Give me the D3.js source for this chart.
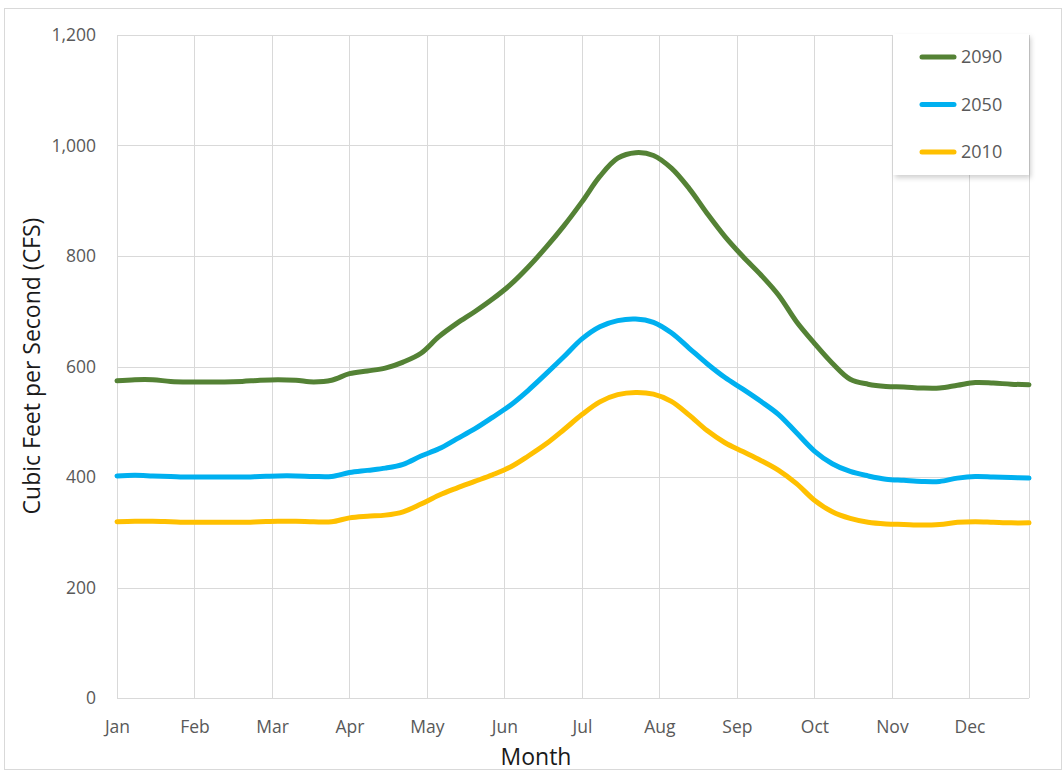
<!DOCTYPE html>
<html>
<head>
<meta charset="utf-8">
<script src="https://cdn.jsdelivr.net/npm/d3@7"></script>
<style>
  html, body { margin: 0; padding: 0; background: #ffffff; }
  svg { display: block; }
  text { font-family: "Open Sans", "DejaVu Sans", sans-serif; }
</style>
</head>
<body>
<svg id="chart" width="1063" height="771"></svg>
<script>
// ---- Data (weekly flows, CFS) ----
const months = ["Jan","Feb","Mar","Apr","May","Jun","Jul","Aug","Sep","Oct","Nov","Dec"];
const yTicks = [0, 200, 400, 600, 800, 1000, 1200];
const seriesNames = ["2090", "2050", "2010"];

const flow2090 = [574,576,576,573,572,572,572,573,575,576,575,572,575,587,592,597,608,624,654,678,699,722,748,780,816,855,898,944,977,987,982,959,922,877,835,799,766,729,681,642,606,577,568,564,563,561,561,566,571,570,568,567];
const flow2050 = [402,403,402,401,400,400,400,400,401,402,402,401,401,408,412,416,423,438,451,469,487,508,530,557,587,618,650,672,683,686,680,661,633,605,580,559,537,513,480,447,424,410,402,396,394,392,392,398,401,400,399,398];
const flow2010 = [319,320,320,319,318,318,318,318,319,320,320,319,319,326,329,331,337,351,367,380,392,404,418,438,460,486,513,536,549,553,550,537,512,484,462,446,430,412,388,358,337,325,318,315,314,313,314,318,319,318,317,317];

const seriesColors = ["#548235", "#00B0F0", "#FFC000"];
const seriesData = [flow2090, flow2050, flow2010];

// ---- Layout ----
const svg = d3.select("#chart");
const plotL = 117, plotR = 1029, plotT = 35, plotB = 698;
const nWeeks = flow2090.length;

const x = d3.scaleLinear().domain([0, nWeeks - 1]).range([plotL, plotR]);
const y = d3.scaleLinear().domain([0, 1200]).range([plotB, plotT]);
const monthPos = months.map((m, i) => i * 52 / 12);

// outer border
svg.append("rect").attr("x", 4.5).attr("y", 8.5).attr("width", 1057).attr("height", 761)
  .attr("fill", "#ffffff").attr("stroke", "#d9d9d9").attr("stroke-width", 1);

// gridlines
const grid = svg.append("g").attr("stroke", "#d9d9d9").attr("stroke-width", 1);
yTicks.forEach(t => {
  grid.append("line").attr("x1", plotL).attr("x2", plotR)
    .attr("y1", Math.round(y(t)) + 0.5).attr("y2", Math.round(y(t)) + 0.5);
});
monthPos.concat([nWeeks - 1]).forEach(p => {
  grid.append("line").attr("y1", plotT).attr("y2", plotB)
    .attr("x1", Math.round(x(p)) + 0.5).attr("x2", Math.round(x(p)) + 0.5);
});

// y axis labels
const yAxis = d3.axisLeft(y).tickValues(yTicks).tickSize(0).tickPadding(0)
  .tickFormat(d3.format(","));
const ya = svg.append("g").attr("transform", `translate(96,0)`).call(yAxis);
ya.select(".domain").remove();
ya.selectAll("text").attr("font-size", 17.5).attr("fill", "#595959")
  .attr("font-family", "'Open Sans', sans-serif");

// x axis labels
const xAxis = d3.axisBottom(x).tickValues(monthPos).tickSize(0).tickPadding(0)
  .tickFormat((d, i) => months[i]);
const xa = svg.append("g").attr("transform", `translate(0,721)`).call(xAxis);
xa.select(".domain").remove();
xa.selectAll("text").attr("font-size", 17.5).attr("fill", "#595959")
  .attr("font-family", "'Open Sans', sans-serif");

// axis titles
svg.append("text").attr("x", 536).attr("y", 765).attr("text-anchor", "middle")
  .attr("font-size", 23).attr("fill", "#1a1a1a").text("Month");
svg.append("text").attr("transform", "translate(40,366) rotate(-90)")
  .attr("text-anchor", "middle").attr("font-size", 23).attr("fill", "#1a1a1a")
  .text("Cubic Feet per Second (CFS)");

// lines
const line = d3.line().x((d, i) => x(i)).y(d => y(d)).curve(d3.curveCatmullRom.alpha(0.5));
seriesData.forEach((s, k) => {
  svg.append("path").datum(s).attr("d", line).attr("fill", "none")
    .attr("stroke", seriesColors[k]).attr("stroke-width", 5)
    .attr("stroke-linejoin", "round").attr("stroke-linecap", "round");
});

// legend
const defs = svg.append("defs");
const f = defs.append("filter").attr("id", "shadow").attr("x", "-10%").attr("y", "-10%")
  .attr("width", "130%").attr("height", "130%");
f.append("feDropShadow").attr("dx", 2).attr("dy", 3).attr("stdDeviation", 2.5)
  .attr("flood-color", "#000").attr("flood-opacity", 0.18);
const lg = svg.append("g");
lg.append("rect").attr("x", 893).attr("y", 34).attr("width", 136).attr("height", 141)
  .attr("fill", "#ffffff").attr("filter", "url(#shadow)");
seriesNames.forEach((n, k) => {
  const cy = 57 + k * 47.5;
  lg.append("line").attr("x1", 922).attr("x2", 954).attr("y1", cy).attr("y2", cy)
    .attr("stroke", seriesColors[k]).attr("stroke-width", 5).attr("stroke-linecap", "round");
  lg.append("text").attr("x", 961).attr("y", cy).attr("dy", "0.35em")
    .attr("font-size", 18).attr("fill", "#595959").text(n);
});
</script>
</body>
</html>
